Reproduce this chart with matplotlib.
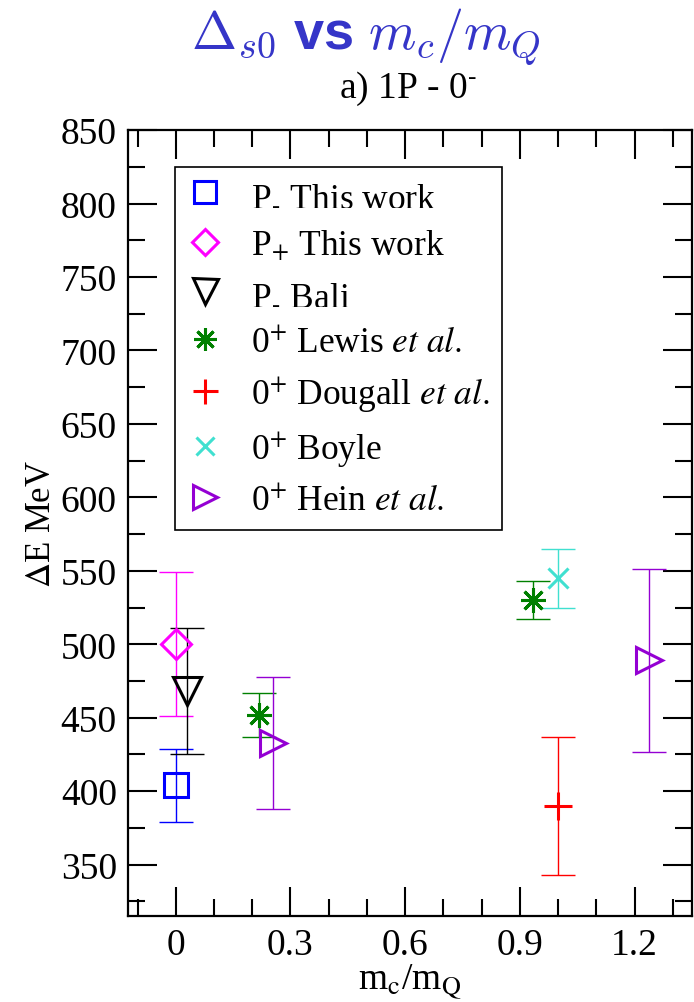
import matplotlib
matplotlib.use("Agg")
import matplotlib.pyplot as plt
from matplotlib.lines import Line2D
from matplotlib.ticker import MultipleLocator

plt.rcParams['font.family'] = ['Liberation Serif', 'DejaVu Serif']
plt.rcParams['mathtext.fontset'] = 'stix'

# data: x = m_c/m_Q, y = Delta E (MeV), err = symmetric error
labels = [r"P$_{\text{-}}$ This work",
          r"P$_{+}$ This work",
          r"P$_{\text{-}}$ Bali",
          r"0$^{+}$ Lewis $\it{et\ al.}$",
          r"0$^{+}$ Dougall $\it{et\ al.}$",
          r"0$^{+}$ Boyle",
          r"0$^{+}$ Hein $\it{et\ al.}$"]
x_vals = [[0.0], [0.0], [0.03], [0.217, 0.933], [1.0], [1.0], [0.254, 1.237]]
y_vals = [[404], [500], [468], [452, 530], [390], [545], [433, 489]]
y_errs = [[25], [49], [43], [15, 13], [47], [20], [45, 62]]

colors = ['#0000ff', '#ff00ff', '#000000', '#008000', '#ff0000', '#40e0d0', '#9400d3']
markers = ['s', 'D', 'v', (8, 2, 0), '+', 'x', '>']
msizes = [17, 15, 20, 18, 20, 14, 19]

fig = plt.figure(figsize=(6.94, 10.03), dpi=100)
ax = fig.add_axes([0.1844, 0.0857, 0.8127, 0.7836])

handles = []
for lab, xs, ys, es, c, m, s in zip(labels, x_vals, y_vals, y_errs, colors, markers, msizes):
    ax.errorbar(xs, ys, yerr=es, fmt='none', ecolor=c, elinewidth=1.0,
                capsize=12, capthick=1.0, zorder=2)
    ax.plot(xs, ys, linestyle='none', marker=m, markersize=s,
            markerfacecolor='none', markeredgecolor=c, markeredgewidth=2.2, zorder=3)
    handles.append(Line2D([], [], linestyle='none', marker=m, markersize=s * 0.9,
                          markerfacecolor='none', markeredgecolor=c, markeredgewidth=2.2,
                          label=lab))

ax.set_xlim(-0.125, 1.35)
ax.set_ylim(315, 850)
ax.xaxis.set_major_locator(MultipleLocator(0.3))
ax.xaxis.set_minor_locator(MultipleLocator(0.1))
ax.yaxis.set_major_locator(MultipleLocator(50))
ax.yaxis.set_minor_locator(MultipleLocator(25))
ax.set_xticks([0, 0.3, 0.6, 0.9, 1.2])
ax.set_xticklabels(['0', '0.3', '0.6', '0.9', '1.2'])
ax.tick_params(which='both', direction='in', top=True, right=True, width=1.5,
               labelsize=27)
ax.tick_params(which='major', length=21, pad=8)
ax.tick_params(which='minor', length=12)
for sp in ax.spines.values():
    sp.set_linewidth(1.6)

ax.set_xlabel(r"m$_{\mathrm{c}}$/m$_{\mathrm{Q}}$", fontsize=27, labelpad=0)
ax.set_ylabel(r"$\Delta$E MeV", fontsize=25, labelpad=2)

leg = ax.legend(handles=handles, loc='upper left', bbox_to_anchor=(0.083, 0.953),
                borderaxespad=0, fontsize=25.5, frameon=True, fancybox=False,
                framealpha=1, edgecolor='black', handlelength=1.0,
                handletextpad=0.8, labelspacing=0.43, borderpad=0.35)
leg.get_frame().set_linewidth(1.2)

fig.text(0.528, 0.963, r"$\Delta_{s0}$ vs $m_c/m_Q$", ha='center', va='center',
         fontsize=39, color='#3535c8', family='Liberation Sans', weight='bold',
         math_fontfamily='cm')
fig.text(0.588, 0.911, r"a) 1P - 0$^{\text{-}}$", ha='center', va='center', fontsize=27)

fig.savefig('out.png', dpi=100)
